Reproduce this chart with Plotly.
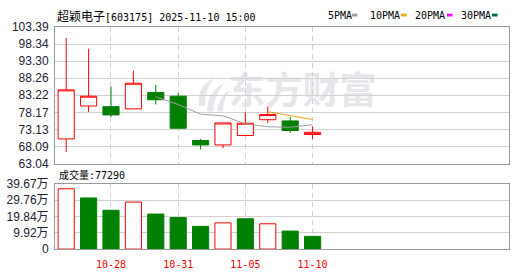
import plotly.graph_objects as go

# ---------------- data ----------------
dates = ["2025-10-24", "2025-10-27", "2025-10-28", "2025-10-29", "2025-10-30", "2025-10-31",
         "2025-11-03", "2025-11-04", "2025-11-05", "2025-11-06", "2025-11-07", "2025-11-10"]
open_p = [70.33, 80.05, 79.85, 79.21, 84.06, 82.94, 69.85, 68.56, 71.36, 76.00, 75.65, 71.64]
high_p = [100.11, 96.95, 85.82, 90.50, 86.30, 83.86, 70.33, 75.05, 78.17, 79.94, 76.86, 73.97]
low_p = [66.49, 78.26, 76.77, 79.21, 80.50, 73.49, 67.24, 67.61, 71.36, 75.00, 72.00, 70.24]
close_p = [84.81, 82.94, 77.42, 86.77, 81.90, 73.49, 68.56, 75.05, 74.96, 77.53, 72.82, 72.29]
volume_wan = [36.78, 31.18, 23.67, 28.69, 21.36, 19.24, 13.86, 15.99, 18.48, 15.42, 10.97, 7.73]
vol_up = [True, False, False, True, False, False, False, True, False, True, False, False]

ma5_dates = dates[4:]
ma5 = [82.77, 80.50, 77.63, 77.15, 74.79, 73.92, 73.78, 74.53]
ma10_dates = dates[9:]
ma10 = [78.34, 77.14, 76.08]

price_ticks = [63.04, 68.09, 73.13, 78.17, 83.22, 88.26, 93.30, 98.34, 103.39]
vol_ticks = [0, 9.92, 19.84, 29.76, 39.67]
vol_tick_text = ["0", "9.92万", "19.84万", "29.76万", "39.67万"]
date_ticks = ["2025-10-28", "2025-10-31", "2025-11-05", "2025-11-10"]
date_tick_text = ["10-28", "10-31", "11-05", "11-10"]

title_name = "超颖电子"
title_rest = "[603175] 2025-11-10 15:00"
vol_label = "成交量:77290"
legend_items = ["5PMA", "10PMA", "20PMA", "30PMA"]
watermark = "东方财富"

# ---------------- layout helpers ----------------
W, H = 530, 276
def px(x):
    return x / W
def py(y):
    return 1 - y / H

main_x = [px(55), px(509)]
main_y = [py(165), py(21)]
vol_y = [py(255), py(186.5)]
x_range = [-0.5, 19.77]

RED = "#ff0000"
GREEN = "#008000"
GRID = "#d2d2d2"
BORDER = "#9a9a9a"
MONO = "DejaVu Sans Mono, Noto Sans CJK SC"
SANS = "Liberation Sans, Arial, Noto Sans CJK SC"
WM = "#e6e6eb"

fig = go.Figure()

# watermark (own subplot drawn first -> below candles)
fig.add_trace(go.Scatter(
    x=[0.545], y=[0.503], mode="text", text=[watermark],
    textfont=dict(family="Noto Sans CJK SC", size=37, color=WM, weight=700),
    xaxis="x", yaxis="y", hoverinfo="skip", showlegend=False))

fig.add_trace(go.Candlestick(
    x=dates, open=open_p, high=high_p, low=low_p, close=close_p,
    increasing=dict(line=dict(color=RED, width=1), fillcolor="white"),
    decreasing=dict(line=dict(color=GREEN, width=1), fillcolor=GREEN),
    whiskerwidth=0, xaxis="x2", yaxis="y2", showlegend=False, hoverinfo="skip"))

fig.add_trace(go.Scatter(x=ma5_dates, y=ma5, mode="lines",
                         line=dict(color="#a0a0a0", width=1),
                         xaxis="x2", yaxis="y2", showlegend=False, hoverinfo="skip"))
fig.add_trace(go.Scatter(x=ma10_dates, y=ma10, mode="lines",
                         line=dict(color="#f0a30a", width=1),
                         xaxis="x2", yaxis="y2", showlegend=False, hoverinfo="skip"))

fig.add_trace(go.Bar(
    x=dates, y=volume_wan, width=0.72,
    marker=dict(color=["white" if u else GREEN for u in vol_up],
                line=dict(color=[RED if u else GREEN for u in vol_up], width=1)),
    xaxis="x3", yaxis="y3", showlegend=False, hoverinfo="skip"))

common_x = dict(type="category", categoryorder="array", categoryarray=dates,
                range=x_range, tickmode="array", tickvals=date_ticks,
                showgrid=True, gridcolor=GRID, griddash="5px,4px", gridwidth=1,
                showline=True, linecolor=BORDER, linewidth=1, mirror=True,
                zeroline=False, ticks="", fixedrange=True)

fig.update_layout(
    width=W, height=H, autosize=False,
    margin=dict(l=0, r=0, t=0, b=0, pad=0),
    paper_bgcolor="white", plot_bgcolor="rgba(0,0,0,0)",
    showlegend=False, bargap=0.28, boxgap=0.28, boxgroupgap=0,
    xaxis=dict(domain=main_x, range=[0, 1], visible=False, fixedrange=True),
    yaxis=dict(domain=main_y, range=[0, 1], visible=False, fixedrange=True),
    xaxis2=dict(domain=main_x, anchor="y2", showticklabels=False,
                rangeslider=dict(visible=False), **common_x),
    yaxis2=dict(domain=main_y, anchor="x2", range=[price_ticks[0], price_ticks[-1]],
                tickmode="array", tickvals=price_ticks,
                ticktext=[f"{v:.2f}" for v in price_ticks],
                tickfont=dict(family=SANS, size=12, color="#222233"),
                showgrid=True, gridcolor=GRID, gridwidth=1,
                showline=True, linecolor=BORDER, linewidth=1, mirror=True,
                zeroline=False, ticks="", ticklabelstandoff=3, fixedrange=True),
    xaxis3=dict(domain=main_x, anchor="y3", ticktext=date_tick_text,
                tickfont=dict(family=MONO, size=10, color=RED),
                ticklabelstandoff=6, **common_x),
    yaxis3=dict(domain=vol_y, anchor="x3", range=[0, vol_ticks[-1]],
                tickmode="array", tickvals=vol_ticks, ticktext=vol_tick_text,
                tickfont=dict(family=SANS, size=12, color="#222233"),
                showgrid=True, gridcolor=GRID, gridwidth=1,
                showline=True, linecolor=BORDER, linewidth=1, mirror=True,
                zeroline=False, ticks="", ticklabelstandoff=3, fixedrange=True),
)

# header text
fig.add_annotation(
    xref="paper", yref="paper", x=px(55), y=py(9), xanchor="left", yanchor="middle",
    text=f'<span style="font-family:Noto Sans CJK SC;font-size:12px">{title_name}</span>{title_rest}',
    showarrow=False, font=dict(family=MONO, size=10, color="#000000"))

# volume label
fig.add_annotation(
    xref="paper", yref="paper", x=px(57), y=py(177), xanchor="left", yanchor="middle",
    text=vol_label, showarrow=False, font=dict(family=MONO, size=10, color="#000000"))

# legend
leg_text_x = [326, 367.5, 413, 458.5]
leg_mark_x = [352, 401, 447, 492]
leg_colors = ["#a0a0a0", "#f0a30a", "#ff00ff", "#006b3c"]
for name, tx, mx, col in zip(legend_items, leg_text_x, leg_mark_x, leg_colors):
    fig.add_annotation(xref="paper", yref="paper", x=px(tx), y=py(8.5),
                       xanchor="left", yanchor="middle", text=name, showarrow=False,
                       font=dict(family=MONO, size=10, color="#000000"))
    fig.add_shape(type="rect", xref="paper", yref="paper",
                  x0=px(mx), x1=px(mx + 5.5), y0=py(10), y1=py(7),
                  fillcolor=col, line=dict(width=0))

# watermark logo (feathers)
def leaf(pts):
    (x0, y0), (cx1, cy1), (x1, y1), (cx2, cy2) = pts
    return (f"M {px(x0)},{py(y0)} Q {px(cx1)},{py(cy1)} {px(x1)},{py(y1)} "
            f"Q {px(cx2)},{py(cy2)} {px(x0 + 6)},{py(y0)} Z")

for pts in [((199, 104), (196, 84), (214, 75), (204, 88)),
            ((207, 110), (207, 90), (224, 80), (214, 94)),
            ((217, 110), (218, 96), (230, 86), (223, 98))]:
    fig.add_shape(type="path", xref="paper", yref="paper", path=leaf(pts),
                  fillcolor=WM, line=dict(width=0), layer="below")

fig.write_html("out.html")
